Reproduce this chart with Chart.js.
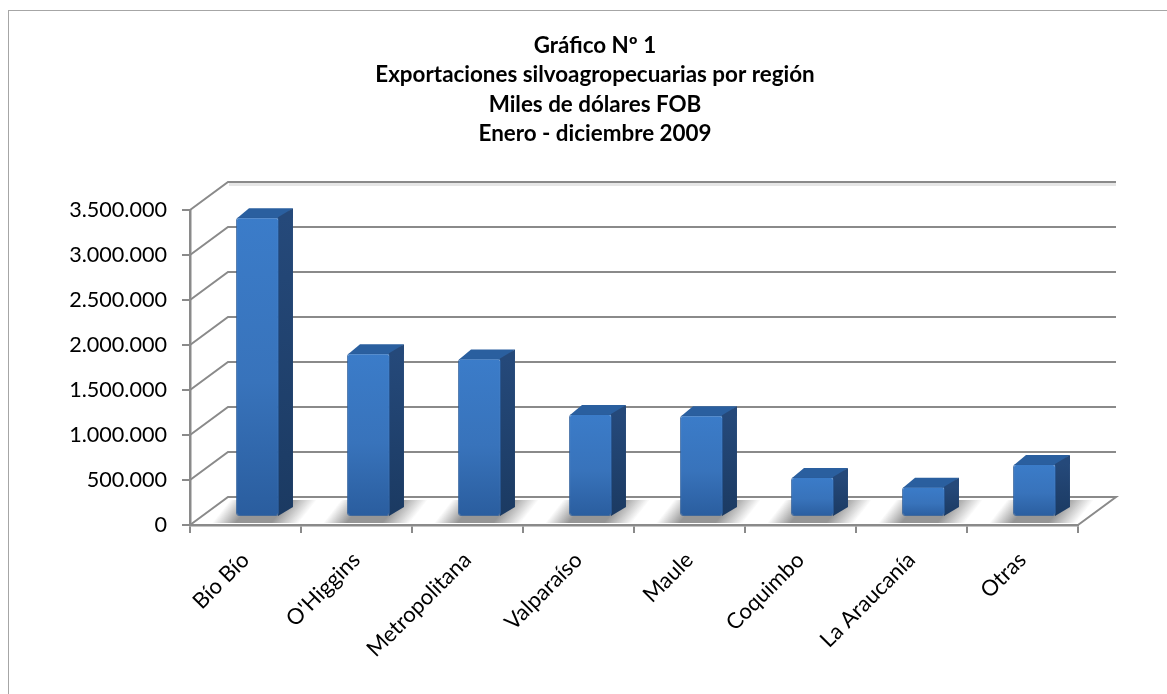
<!DOCTYPE html>
<html>
<head>
<meta charset="utf-8">
<title>Gráfico Nº 1</title>
<script src="https://cdn.jsdelivr.net/npm/chart.js@4"></script>
<style>
    html, body { margin: 0; background: #fff; }
    #wrap { position: absolute; left: 0; top: 0; width: 1167px; height: 694px; overflow: hidden; }
    #frame { position: absolute; left: 8px; top: 10px; width: 1400px; height: 900px; border: 1px solid #a6a6a6; }
    canvas { position: absolute; left: 0; top: 0; }
</style>
</head>
<body>
<div id="wrap">
    <div id="frame"></div>
    <canvas id="chart" width="1167" height="694"></canvas>
</div>
<script>
const titleLines = ['Gráfico Nº 1', 'Exportaciones silvoagropecuarias por región', 'Miles de dólares FOB', 'Enero - diciembre 2009'];
const categories = ['Bío Bío', "O'Higgins", 'Metropolitana', 'Valparaíso', 'Maule', 'Coquimbo', 'La Araucanía', 'Otras'];
const values = [3330000, 1820000, 1760000, 1145000, 1130000, 445000, 335000, 590000];
const yTickLabels = ['0', '500.000', '1.000.000', '1.500.000', '2.000.000', '2.500.000', '3.000.000', '3.500.000'];

const GRID = '#8a8a8a';
// depth of the fake 3D box, wall and bars
const wallDx = 38, wallDy = 28;
const barDx = 12, barDy = 8;
const sideDx = 14, sideDy = 9;

function frontGradient(context) {
    const y = context.chart.scales.y;
    if (!y || context.raw === undefined) return '#3572ba';
    const top = y.getPixelForValue(context.raw), bottom = y.getPixelForValue(0);
    if (!Number.isFinite(top) || !Number.isFinite(bottom)) return '#3572ba';
    const g = context.chart.ctx.createLinearGradient(0, top, 0, bottom);
    g.addColorStop(0, '#3b7cc9');
    g.addColorStop(0.55, '#3873bb');
    g.addColorStop(1, '#2a5d9e');
    return g;
}

const wallPlugin = {
    id: 'wall',
    beforeDatasetsDraw(chart) {
        const ctx = chart.ctx, y = chart.scales.y, a = chart.chartArea;
        ctx.save();
        ctx.strokeStyle = GRID;
        ctx.lineWidth = 2;
        y.ticks.forEach(t => {
            const py = y.getPixelForValue(t.value);
            ctx.beginPath();
            ctx.moveTo(a.left, py);
            ctx.lineTo(a.left + wallDx, py - wallDy);
            ctx.lineTo(a.right + wallDx, py - wallDy);
            if (t.value === 0) ctx.lineTo(a.right, py);
            ctx.stroke();
        });
        // light band under top wall line
        ctx.fillStyle = '#e6e6e6';
        ctx.fillRect(a.left + wallDx + 1, a.top - wallDy + 1, a.right - a.left - 1, 3);
        // floor shadows, sheared so the fade runs along the floor diagonal
        const meta = chart.getDatasetMeta(0);
        const b = y.getPixelForValue(0) - barDy;
        const shear = 18 / 23;
        meta.data.forEach(bar => {
            const l = bar.x - bar.width / 2 + barDx, r = bar.x + bar.width / 2 + barDx;
            ctx.save();
            ctx.transform(1, 0, -shear, 1, shear * (b + 6), 0);
            const x0 = l - 24, x1 = r + 20;
            const g = ctx.createLinearGradient(x0, 0, x1, 0);
            g.addColorStop(0, 'rgba(150,150,150,0)');
            g.addColorStop(0.27, 'rgba(150,150,150,1)');
            g.addColorStop(0.68, 'rgba(150,150,150,1)');
            g.addColorStop(1, 'rgba(150,150,150,0)');
            ctx.fillStyle = g;
            ctx.fillRect(x0, b - 17, x1 - x0, 23);
            ctx.restore();
        });
        ctx.restore();
    },
    beforeDatasetDraw(chart) {
        const ctx = chart.ctx;
        const meta = chart.getDatasetMeta(0);
        ctx.save();
        // top and side faces of each bar
        meta.data.forEach(bar => {
            const l = bar.x - bar.width / 2 + barDx, r = bar.x + bar.width / 2 + barDx;
            const t = bar.y - barDy, b = bar.base - barDy;
            ctx.fillStyle = '#2a5f9f';
            ctx.beginPath();
            ctx.moveTo(l + 1, t + 1);
            ctx.lineTo(l + sideDx - 1, t - sideDy);
            ctx.lineTo(r + sideDx, t - sideDy);
            ctx.lineTo(r + 1, t + 1);
            ctx.closePath();
            ctx.fill();
            const g = ctx.createLinearGradient(0, t, 0, b);
            g.addColorStop(0, '#25497a');
            g.addColorStop(1, '#1b3a62');
            ctx.fillStyle = g;
            ctx.beginPath();
            ctx.moveTo(r - 1, t);
            ctx.lineTo(r + sideDx, t - sideDy);
            ctx.lineTo(r + sideDx, b - sideDy);
            ctx.lineTo(r - 1, b);
            ctx.closePath();
            ctx.fill();
        });
        ctx.restore();
        // real bars sit in front of the floor, shifted into the box
        ctx.save();
        ctx.translate(barDx, -barDy);
    },
    afterDatasetDraw(chart) {
        chart.ctx.restore();
    }
};

new Chart(document.getElementById('chart'), {
    type: 'bar',
    data: {
        labels: categories,
        datasets: [{
            data: values,
            backgroundColor: frontGradient,
            borderColor: 'rgba(42,92,155,0.8)',
            borderWidth: 1,
            borderRadius: 3,
            borderSkipped: false,
            categoryPercentage: 1,
            barPercentage: 0.387
        }]
    },
    plugins: [wallPlugin],
    options: {
        responsive: false,
        animation: false,
        clip: false,
        layout: { padding: { left: 24, right: 1, top: 0, bottom: 0 } },
        plugins: {
            legend: { display: false },
            tooltip: { enabled: false },
            title: {
                display: true,
                text: titleLines,
                color: '#000',
                font: { family: 'Lato', size: 22.4, weight: 'bold', lineHeight: 1.317 },
                padding: { top: 31, bottom: 61 }
            }
        },
        scales: {
            x: {
                grid: { drawOnChartArea: false, drawTicks: true, tickLength: 8, color: GRID, lineWidth: 2 },
                border: { color: GRID, width: 2.5 },
                ticks: {
                    color: '#000',
                    font: { family: 'Lato', size: 22 },
                    maxRotation: 45,
                    minRotation: 45,
                    padding: 14,
                    autoSkip: false
                },
                afterFit(scale) { scale.height = 169; }
            },
            y: {
                min: 0,
                max: 3500000,
                grid: { drawOnChartArea: false, drawTicks: true, tickLength: 8, color: GRID, lineWidth: 2 },
                border: { color: GRID, width: 2.5 },
                ticks: {
                    stepSize: 500000,
                    color: '#000',
                    font: { family: 'Lato', size: 21.6 },
                    padding: 15,
                    callback: (v, i) => yTickLabels[i]
                },
                afterFit(scale) { scale.width = 166; }
            },
            // empty axis, only keeps the plot off the right side so the title stays centred where it was
            spacer: {
                type: 'linear',
                position: 'right',
                grid: { display: false },
                border: { display: false },
                ticks: { display: false },
                afterFit(scale) { scale.width = 88; }
            }
        }
    }
});
</script>
</body>
</html>
